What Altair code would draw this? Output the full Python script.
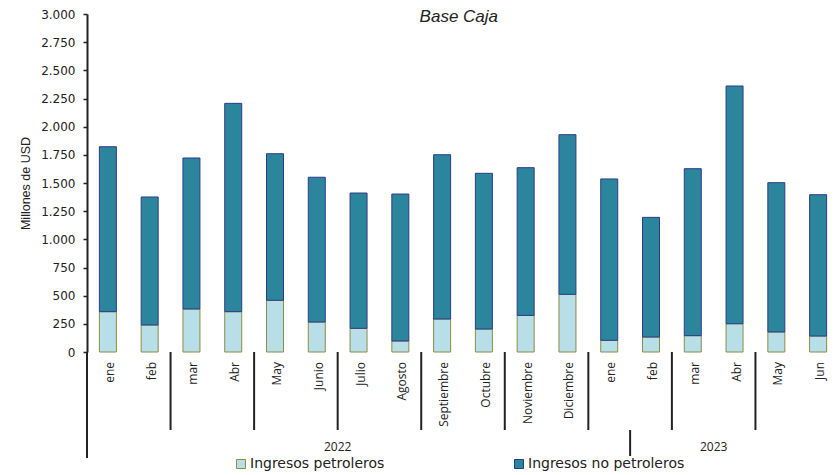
import altair as alt
import pandas as pd

months = ["ene", "feb", "mar", "Abr", "May", "Junio", "Julio", "Agosto", "Septiembre",
          "Octubre", "Noviembre", "Diciembre", "ene", "feb", "mar", "Abr", "May", "Jun"]
years = ["2022"] * 12 + ["2023"] * 6
oil = [358, 240, 382, 358, 459, 266, 210, 98, 293, 204, 325, 512, 104, 133, 145, 251, 178, 142]
nonoil = [1464, 1136, 1340, 1849, 1301, 1285, 1201, 1304, 1458, 1382, 1311, 1417,
          1432, 1062, 1482, 2110, 1325, 1254]
series = ["Ingresos petroleros", "Ingresos no petroleros"]
y_ticks = list(range(0, 3001, 250))

rows = []
for i, (o, n) in enumerate(zip(oil, nonoil)):
    rows.append({"idx": i, "serie": series[0], "y0": 0, "y1": o})
    rows.append({"idx": i, "serie": series[1], "y0": o, "y1": o + n})
bars_df = pd.DataFrame(rows)

labels_df = pd.DataFrame({"idx": list(range(len(months))), "month": months})
year_names = sorted(set(years))
year_df = pd.DataFrame({
    "year": year_names,
    "center": [(years.index(y) + len(years) - 1 - years[::-1].index(y)) / 2 for y in year_names],
})
pair_df = pd.DataFrame({"pos": [i + 1.5 for i in range(0, len(months) - 2, 2)]})
left_df = pd.DataFrame({"pos": [-0.5]})
odd_df = pd.DataFrame({"pos": [12.5]})

xscale = alt.Scale(domain=[-0.5, 17.5], range=[0, 752], nice=False, zero=False, padding=0)
yscale = alt.Scale(domain=[0, 3000], nice=False)

fill_scale = alt.Scale(domain=series, range=["#b8dfe8", "#2b869d"])
stroke_scale = alt.Scale(domain=series, range=["#8c8c46", "#2d3b86"])
leg = alt.Legend(title=None, orient="none", legendX=147, legendY=443, direction="horizontal",
                 symbolType="square", symbolSize=81, symbolStrokeWidth=1, labelFont="DejaVu Sans",
                 labelFontSize=14, labelColor="#222", columnPadding=127, padding=0, labelOffset=2)

bars = alt.Chart(bars_df).mark_bar(size=17, strokeWidth=1).encode(
    x=alt.X("idx:Q", scale=xscale,
            axis=alt.Axis(labels=False, ticks=False, grid=False, title=None,
                          domainColor="#222", domainWidth=2)),
    y=alt.Y("y0:Q", scale=yscale,
            axis=alt.Axis(values=y_ticks, grid=False,
                          labelExpr="replace(format(datum.value, ','), ',', '.')",
                          tickSize=4, tickColor="#222", tickWidth=1.5,
                          domainColor="#222", domainWidth=2,
                          labelFont="DejaVu Sans", labelFontSize=12, labelColor="#222",
                          labelPadding=8, title="Millones de USD", titleFont="Liberation Sans",
                          titleFontSize=12.5, titleFontWeight="normal", titleColor="#222",
                          titlePadding=8)),
    y2="y1:Q",
    fill=alt.Fill("serie:N", scale=fill_scale, legend=leg),
    stroke=alt.Stroke("serie:N", scale=stroke_scale, legend=leg),
)

month_text = alt.Chart(labels_df).mark_text(
    angle=270, align="right", baseline="middle", font="Open Sans", fontSize=12, color="#222", dy=2
).encode(x=alt.X("idx:Q", scale=xscale, axis=None), y=alt.value(348), text="month:N")

year_text = alt.Chart(year_df).mark_text(
    align="center", baseline="middle", font="Open Sans", fontSize=12, color="#222"
).encode(x=alt.X("center:Q", scale=xscale, axis=None), y=alt.value(433), text="year:N")

pair_rules = alt.Chart(pair_df).mark_rule(color="#222", strokeWidth=2).encode(
    x=alt.X("pos:Q", scale=xscale, axis=None), y=alt.value(338), y2=alt.value(416))
left_rule = alt.Chart(left_df).mark_rule(color="#222", strokeWidth=2).encode(
    x=alt.X("pos:Q", scale=xscale, axis=None), y=alt.value(338), y2=alt.value(444))
odd_rule = alt.Chart(odd_df).mark_rule(color="#222", strokeWidth=2).encode(
    x=alt.X("pos:Q", scale=xscale, axis=None), y=alt.value(416), y2=alt.value(442))

title_df = pd.DataFrame({"t": ["Base Caja"], "pos": [8.4]})
title = alt.Chart(title_df).mark_text(
    align="center", baseline="top", font="Liberation Sans", fontStyle="italic",
    fontSize=17, color="#222"
).encode(x=alt.X("pos:Q", scale=xscale, axis=None), y=alt.value(-5), text="t:N")

chart = alt.layer(bars, pair_rules, left_rule, odd_rule, month_text, year_text, title).properties(
    width=741, height=338,
    autosize=alt.AutoSizeParams(type="none"),
    padding={"left": 79, "top": 6, "right": 0, "bottom": 121},
).configure_view(stroke=None)

chart.save("out.html", embed_options={"renderer": "svg", "actions": False})
